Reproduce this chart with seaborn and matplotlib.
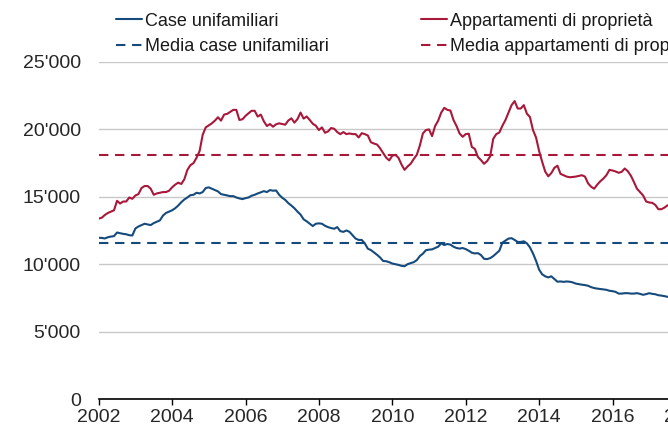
import numpy as np
import pandas as pd
import matplotlib
matplotlib.use("Agg")
import matplotlib.pyplot as plt
import seaborn as sns
from matplotlib.lines import Line2D
from matplotlib.ticker import FuncFormatter

# Monthly values, Jan 2002 onwards
case_unifamiliari = [
    11960, 11950, 11910, 12000, 12050, 12080, 12350, 12300, 12250, 12220, 12150, 12130,
    12650, 12800, 12900, 13000, 12950, 12900, 13050, 13150, 13250, 13600, 13800, 13900,
    14000, 14150, 14350, 14600, 14800, 14950, 15120, 15150, 15300, 15250, 15350, 15650,
    15700, 15600, 15500, 15400, 15200, 15150, 15100, 15050, 15050, 14950, 14880, 14830,
    14900, 14950, 15080, 15150, 15250, 15330, 15420, 15350, 15500, 15450, 15470, 15150,
    14930, 14770, 14530, 14350, 14150, 13900, 13680, 13330, 13180, 13000, 12830, 13000,
    13030, 13000, 12850, 12750, 12680, 12630, 12750, 12450, 12400, 12500, 12400, 12150,
    11900, 11800, 11800, 11550, 11150, 11050, 10880, 10700, 10500, 10240, 10220, 10150,
    10050, 10000, 9950, 9880, 9850, 10000, 10080, 10150, 10300, 10600, 10780, 11040,
    11080, 11100, 11200, 11300, 11550, 11420, 11500, 11450, 11300, 11200, 11160, 11200,
    11120, 11000, 10850, 10800, 10820, 10680, 10400, 10380, 10450, 10600, 10800, 11000,
    11600, 11750, 11900, 11930, 11800, 11650, 11650, 11700, 11550, 11250, 10800, 10250,
    9600, 9250, 9100, 9020, 9100, 8900, 8700, 8720, 8690, 8720, 8700, 8650,
    8560, 8520, 8480, 8450, 8400, 8300, 8230, 8190, 8160, 8130, 8100, 8030,
    8000, 7950, 7820, 7820, 7850, 7850, 7820, 7820, 7850, 7800, 7730, 7780,
    7850, 7800, 7770, 7700, 7670, 7630, 7580,
]
appartamenti = [
    13380, 13450, 13650, 13800, 13900, 14000, 14700, 14500, 14650, 14650, 14950, 14850,
    15100, 15200, 15650, 15800, 15800, 15600, 15150, 15250, 15300, 15350, 15350, 15450,
    15700, 15900, 16050, 15950, 16300, 17000, 17350, 17500, 17900, 18400, 19600, 20150,
    20300, 20450, 20650, 20900, 20650, 21100, 21150, 21300, 21450, 21450, 20700, 20750,
    21000, 21200, 21380, 21380, 20950, 21100, 20600, 20250, 20400, 20200, 20380, 20450,
    20400, 20350, 20660, 20820, 20500, 20770, 21250, 20800, 20960, 20700, 20420, 20270,
    19950, 20150, 19750, 19850, 20100, 20050, 19800, 19650, 19800, 19650, 19700, 19650,
    19650, 19400, 19720, 19650, 19550, 19050, 18950, 18880, 18600, 18250, 17900, 17700,
    18050, 18110, 17900, 17400, 17000, 17250, 17450, 17800, 18110, 18800, 19700, 19950,
    20000, 19500, 20250, 20650, 21250, 21600, 21450, 21400, 20700, 20250, 19700, 19450,
    19650, 19680, 18700, 18550, 17950, 17720, 17450, 17650, 18000, 19300, 19650, 19770,
    20270, 20700, 21250, 21800, 22100, 21550, 21550, 21800, 21170, 20920, 19950, 19400,
    18400, 17600, 16870, 16520, 16760, 17150, 17310, 16700, 16600, 16500, 16450, 16470,
    16500, 16550, 16600, 16500, 16000, 15750, 15600, 15900, 16150, 16350, 16600, 17000,
    16950, 16880, 16780, 16850, 17100, 16900, 16570, 16100, 15600, 15350, 15100, 14650,
    14580, 14550, 14400, 14080, 14080, 14200, 14370,
]
media_case = 11550
media_appartamenti = 18100

labels = ["Case unifamiliari", "Appartamenti di proprietà",
          "Media case unifamiliari", "Media appartamenti di proprietà"]
blue = "#154a7c"
red = "#a8183a"

dates = pd.date_range("2002-01-01", periods=len(case_unifamiliari), freq="MS")
anno = dates.year + (dates.month - 1) / 12

df = pd.concat([
    pd.DataFrame({"anno": anno, "valore": case_unifamiliari, "serie": labels[0]}),
    pd.DataFrame({"anno": anno, "valore": appartamenti, "serie": labels[1]}),
])

sns.set_theme(style="white")
plt.rcParams["font.family"] = ["Liberation Sans", "DejaVu Sans"]
plt.rcParams["text.color"] = "#1a1a1a"

fig = plt.figure(figsize=(6.68, 4.30), dpi=100)
ax = fig.add_axes([98.7 / 668, 31 / 430, 17 * 36.7 / 668, 337 / 430])

sns.lineplot(data=df, x="anno", y="valore", hue="serie",
             palette={labels[0]: blue, labels[1]: red},
             linewidth=1.5, legend=False, ax=ax)
dash = (0, (4.5, 3.2))
ax.axhline(media_case, color=blue, lw=1.5, ls=dash)
ax.axhline(media_appartamenti, color=red, lw=1.5, ls=dash)

ax.set_xlim(2002, 2019)
ax.set_ylim(0, 25000)
ax.set_xticks(range(2002, 2020, 2))
ax.set_yticks(range(0, 25001, 5000))
ax.yaxis.set_major_formatter(FuncFormatter(lambda v, p: f"{int(v):,}".replace(",", "'")))
ax.set_xlabel("")
ax.set_ylabel("")
ax.grid(axis="y", color="#c8c8c8", lw=1)
ax.set_axisbelow(True)
for s in ["left", "right", "top"]:
    ax.spines[s].set_visible(False)
ax.spines["bottom"].set_color("black")
ax.spines["bottom"].set_linewidth(1.2)
ax.spines["bottom"].set_zorder(5)
ax.tick_params(axis="x", direction="out", length=4, width=1, color="black",
               labelsize=14, pad=3, bottom=True)
ax.tick_params(axis="y", length=0, labelsize=14, pad=13)

handles = [
    Line2D([], [], color=blue, lw=1.5),
    Line2D([], [], color=blue, lw=1.5, ls=dash),
    Line2D([], [], color=red, lw=1.5),
    Line2D([], [], color=red, lw=1.5, ls=dash),
]
fig.legend(handles, [labels[0], labels[2], labels[1], labels[3]], ncol=2,
           loc="upper left", bbox_to_anchor=(116 / 668, 1 - 12.5 / 430),
           frameon=False, fontsize=13, handlelength=1.45, handletextpad=0.15,
           columnspacing=5.1, labelspacing=0.48, borderpad=0, borderaxespad=0)

fig.savefig("out.png", dpi=100)
